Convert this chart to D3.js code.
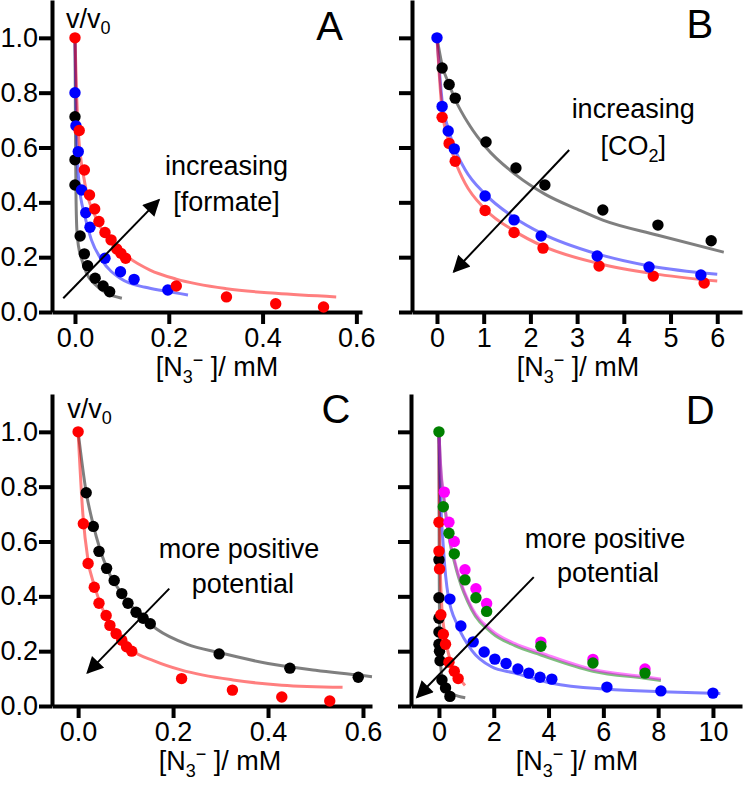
<!DOCTYPE html>
<html>
<head>
<meta charset="utf-8">
<script src="https://cdnjs.cloudflare.com/ajax/libs/d3/7.8.5/d3.min.js"></script>
<style>
body{margin:0;background:#fff;}
text{font-family:"Liberation Sans",Arial,sans-serif;fill:#000;}
.axis path,.axis line{stroke:#000;stroke-width:4;}
.axis text{font-size:27px;font-family:"Liberation Sans",Arial,sans-serif;fill:#000;}
</style>
</head>
<body>
<script>
// ---- data ([N3-] in mM, v/v0) ----
var yTicks = [0, 0.2, 0.4, 0.6, 0.8, 1.0];
var xTicksAC = [0, 0.2, 0.4, 0.6];
var xTicksB = [0, 1, 2, 3, 4, 5, 6];
var xTicksD = [0, 2, 4, 6, 8, 10];

// panel A : increasing formate
var aBlack = [[0,0.712],[0,0.555],[0,0.463],[0.011,0.277],[0.02,0.212],[0.027,0.169],[0.043,0.123],[0.06,0.095],[0.074,0.074]];
var aBlue = [[0,0.8],[0.002,0.679],[0.007,0.585],[0.014,0.445],[0.023,0.362],[0.032,0.309],[0.064,0.196],[0.097,0.147],[0.126,0.119],[0.198,0.08]];
var aRed = [[0,1.0],[0.009,0.662],[0.02,0.518],[0.031,0.427],[0.042,0.376],[0.051,0.33],[0.064,0.29],[0.077,0.263],[0.089,0.23],[0.098,0.214],[0.108,0.196],[0.216,0.095],[0.323,0.055],[0.428,0.03],[0.53,0.018]];
var aBlackFit = [[0,1],[0.001,0.7],[0.002,0.45],[0.004,0.3],[0.008,0.235],[0.013,0.2],[0.025,0.14],[0.043,0.1],[0.064,0.072],[0.1,0.05]];
var aBlueFit = [[0,1],[0.002,0.78],[0.0035,0.65],[0.0085,0.47],[0.021,0.35],[0.035,0.263],[0.057,0.19],[0.099,0.12],[0.15,0.09],[0.19,0.077],[0.241,0.062]];
var aRedFit = [[0,1],[0.003,0.82],[0.007,0.66],[0.021,0.47],[0.043,0.35],[0.071,0.265],[0.113,0.2],[0.16,0.153],[0.216,0.12],[0.323,0.085],[0.428,0.068],[0.557,0.055]];

// panel B : increasing CO2
var bBlack = [[0.11,0.89],[0.26,0.83],[0.39,0.78],[1.05,0.62],[1.69,0.525],[2.31,0.463],[3.55,0.372],[4.73,0.317],[5.87,0.26]];
var bBlue = [[0,1.0],[0.11,0.75],[0.24,0.66],[0.37,0.595],[1.03,0.423],[1.65,0.336],[2.23,0.277],[3.43,0.204],[4.54,0.164],[5.65,0.135]];
var bRed = [[0.11,0.71],[0.26,0.615],[0.39,0.55],[1.03,0.37],[1.65,0.29],[2.27,0.233],[3.47,0.168],[4.63,0.131],[5.72,0.106]];
var bBlackFit = [[0,1],[0.11,0.9],[0.26,0.83],[0.39,0.775],[0.7,0.68],[1.05,0.6],[1.69,0.5],[2.31,0.43],[3.0,0.375],[3.55,0.335],[4.73,0.28],[6.14,0.218]];
var bBlueFit = [[0,1],[0.11,0.77],[0.24,0.67],[0.37,0.6],[0.6,0.52],[1.03,0.43],[1.65,0.345],[2.23,0.288],[3.43,0.212],[4.55,0.168],[6.0,0.138]];
var bRedFit = [[0,1],[0.11,0.735],[0.26,0.62],[0.39,0.55],[0.6,0.47],[1.03,0.375],[1.66,0.295],[2.27,0.24],[3.46,0.177],[4.62,0.14],[6.0,0.113]];

// panel C : more positive potential
var cBlack = [[0.017,0.778],[0.032,0.655],[0.044,0.564],[0.06,0.502],[0.076,0.458],[0.092,0.41],[0.105,0.375],[0.122,0.342],[0.137,0.32],[0.152,0.3],[0.297,0.19],[0.446,0.138],[0.59,0.105]];
var cRed = [[0,1.0],[0.011,0.665],[0.021,0.52],[0.034,0.433],[0.044,0.375],[0.059,0.33],[0.067,0.294],[0.08,0.264],[0.092,0.24],[0.102,0.216],[0.113,0.2],[0.218,0.1],[0.325,0.058],[0.429,0.033],[0.53,0.018]];
var cBlackFit = [[0,1],[0.017,0.78],[0.032,0.66],[0.06,0.505],[0.09,0.415],[0.12,0.35],[0.166,0.28],[0.23,0.225],[0.297,0.195],[0.4,0.155],[0.5,0.13],[0.619,0.107]];
var cRedFit = [[0,1],[0.01,0.7],[0.021,0.53],[0.034,0.44],[0.05,0.36],[0.07,0.29],[0.09,0.245],[0.113,0.204],[0.16,0.165],[0.218,0.131],[0.326,0.095],[0.429,0.076],[0.557,0.068]];

// panel D : more positive potential, wider range
var dBlack = [[0,0.533],[0,0.395],[0,0.32],[0,0.27],[0,0.225],[0.02,0.2],[0.04,0.165],[0.11,0.095],[0.24,0.066],[0.4,0.035]];
var dRed = [[0,0.67],[0,0.565],[0.02,0.5],[0.07,0.333],[0.16,0.262],[0.24,0.225],[0.365,0.16],[0.56,0.127],[0.7,0.1]];
var dBlue = [[0.4,0.39],[0.8,0.292],[1.25,0.234],[1.65,0.197],[2.04,0.171],[2.45,0.155],[2.88,0.135],[3.28,0.12],[3.69,0.105],[4.12,0.098],[6.13,0.069],[8.1,0.055],[10.0,0.047]];
var dMagenta = [[0.195,0.78],[0.365,0.67],[0.56,0.6],[0.95,0.497],[1.35,0.428],[1.74,0.374],[3.72,0.233],[5.62,0.17],[7.52,0.135]];
var dGreen = [[0,1.0],[0.16,0.727],[0.365,0.63],[0.56,0.555],[0.95,0.46],[1.35,0.395],[1.74,0.345],[3.72,0.218],[5.62,0.157],[7.52,0.12]];
var dBlackFit = [[0,1],[0.005,0.7],[0.01,0.5],[0.02,0.33],[0.04,0.2],[0.08,0.13],[0.15,0.09],[0.3,0.06],[0.5,0.045],[0.96,0.03]];
var dRedFit = [[0,1],[0.02,0.7],[0.05,0.5],[0.1,0.37],[0.2,0.27],[0.35,0.19],[0.55,0.13],[0.75,0.1],[0.95,0.075]];
var dBlueFit = [[0,1],[0.04,0.82],[0.16,0.58],[0.34,0.4],[0.7,0.29],[1.19,0.204],[1.92,0.143],[2.77,0.12],[4.12,0.083],[6.13,0.061],[8.1,0.052],[10.27,0.046]];
var dGreenFit = [[0,1],[0.08,0.84],[0.16,0.77],[0.34,0.63],[0.7,0.475],[1.19,0.352],[1.92,0.268],[2.77,0.22],[3.72,0.186],[5.62,0.127],[7.5,0.101],[8.1,0.093]];
var dMagentaFit = [[0,1],[0.08,0.85],[0.16,0.78],[0.34,0.64],[0.7,0.483],[1.19,0.36],[1.92,0.276],[2.77,0.228],[3.72,0.194],[5.62,0.133],[7.5,0.107],[8.1,0.098]];

// arrows: [start, tip] in data units
var aArrow = [[-0.025,0.05],[0.179,0.409]];
var bArrow = [[2.83,0.591],[0.36,0.147]];
var cArrow = [[0.192,0.428],[0.0196,0.121]];
var dArrow = [[3.46,0.47],[-0.8,0.032]];

var svg = d3.select('body').append('svg')
    .attr('width', 744)
    .attr('height', 785);

svg.append('defs').append('marker')
    .attr('id', 'head')
    .attr('viewBox', '0 0 10 10')
    .attr('refX', 9).attr('refY', 5)
    .attr('markerUnits', 'userSpaceOnUse')
    .attr('markerWidth', 21).attr('markerHeight', 17)
    .attr('orient', 'auto')
    .append('path').attr('d', 'M0,0L10,5L0,10z').attr('fill', '#000');

var plotH = 312;

function panel(top, xDom, xRange, xTicks, xFmt, showY) {
    var g = svg.append('g').attr('transform', 'translate(0,' + top + ')');
    var x = d3.scaleLinear().domain(xDom).range(xRange);
    var y = d3.scaleLinear().domain([0, 1.138]).range([plotH, 0]);

    g.append('g').attr('class', 'axis')
        .attr('transform', 'translate(' + xRange[0] + ',0)')
        .call(d3.axisLeft(y).tickValues(yTicks).tickSize(13).tickSizeOuter(0).tickPadding(1)
            .tickFormat(showY ? d3.format('.1f') : ''));

    g.append('g').attr('class', 'axis')
        .attr('transform', 'translate(0,' + plotH + ')')
        .call(d3.axisBottom(x).tickValues(xTicks).tickSize(12).tickSizeOuter(0).tickPadding(4)
            .tickFormat(xFmt));

    return {g: g, x: x, y: y};
}

var line = function (p) {
    return d3.line()
        .x(function (d) { return p.x(d[0]); })
        .y(function (d) { return p.y(d[1]); })
        .curve(d3.curveMonotoneX);
};

function fit(p, pts, color) {
    p.g.append('path').datum(pts)
        .attr('d', line(p))
        .attr('fill', 'none')
        .attr('stroke', color)
        .attr('stroke-width', 3)
        .attr('stroke-opacity', 0.5);
}

function dots(p, pts, color) {
    p.g.append('g').selectAll('circle')
        .data(pts).enter()
        .append('circle')
        .attr('cx', function (d) { return p.x(d[0]); })
        .attr('cy', function (d) { return p.y(d[1]); })
        .attr('r', 5.7)
        .attr('fill', color);
}

function arrow(p, a) {
    p.g.append('line')
        .attr('x1', p.x(a[0][0])).attr('y1', p.y(a[0][1]))
        .attr('x2', p.x(a[1][0])).attr('y2', p.y(a[1][1]))
        .attr('stroke', '#000').attr('stroke-width', 2)
        .attr('marker-end', 'url(#head)');
}

function txt(p, c, v, s, size, anchor) {
    return p.g.append('text')
        .attr('x', p.x(c)).attr('y', p.y(v))
        .attr('text-anchor', anchor || 'middle')
        .style('font-size', (size || 27) + 'px')
        .text(s);
}

// [N3-]/ mM axis title
function nTitle(p, cx) {
    var t = p.g.append('text')
        .attr('x', cx).attr('y', 376)
        .attr('text-anchor', 'middle')
        .style('font-size', '27px');
    t.append('tspan').text('[N');
    t.append('tspan').attr('dy', 7).style('font-size', '18px').text('3');
    t.append('tspan').attr('dy', -17).style('font-size', '18px').text('\u2212');
    t.append('tspan').attr('dy', 10).text(' ]/ mM');
}

function vLabel(p, c, v) {
    var t = txt(p, c, v, 'v/v', 27, 'start');
    t.append('tspan').attr('dy', 6).style('font-size', '18px').text('0');
}

var fmt1 = d3.format('.1f');
var fmt0 = d3.format('d');

// ---------- A ----------
var A = panel(0, [-0.049, 0.612], [52, 362], xTicksAC, fmt1, true);
fit(A, aBlackFit, '#000');
fit(A, aBlueFit, '#0000ff');
fit(A, aRedFit, '#ff0000');
dots(A, aBlack, '#000');
dots(A, aBlue, '#0000ff');
dots(A, aRed, '#ff0000');
arrow(A, aArrow);
txt(A, 0.323, 0.5, 'increasing');
txt(A, 0.323, 0.369, '[formate]');
txt(A, 0.543, 0.993, 'A', 40);
vLabel(A, -0.019, 1.036);
nTitle(A, 217);

// ---------- B ----------
var B = panel(0, [-0.535, 6.53], [412, 742], xTicksB, fmt0, false);
fit(B, bBlackFit, '#000');
fit(B, bBlueFit, '#0000ff');
fit(B, bRedFit, '#ff0000');
dots(B, bBlack, '#000');
dots(B, bRed, '#ff0000');
dots(B, bBlue, '#0000ff');
arrow(B, bArrow);
txt(B, 4.2, 0.708, 'increasing');
var co = txt(B, 4.2, 0.573, '[CO');
co.append('tspan').attr('dy', 7).style('font-size', '18px').text('2');
co.append('tspan').attr('dy', -7).text(']');
txt(B, 5.63, 1.0, 'B', 40);
nTitle(B, 578);

// ---------- C ----------
var C = panel(394, [-0.055, 0.619], [52, 372], xTicksAC, fmt1, true);
fit(C, cBlackFit, '#000');
fit(C, cRedFit, '#ff0000');
dots(C, cBlack, '#000');
dots(C, cRed, '#ff0000');
arrow(C, cArrow);
txt(C, 0.339, 0.538, 'more positive');
txt(C, 0.347, 0.411, 'potential');
txt(C, 0.543, 1.033, 'C', 40);
vLabel(C, -0.023, 1.05);
nTitle(C, 220);

// ---------- D ----------
var D = panel(394, [-1.02, 11.06], [411, 742], xTicksD, fmt0, false);
fit(D, dBlackFit, '#000');
fit(D, dRedFit, '#ff0000');
fit(D, dBlueFit, '#0000ff');
fit(D, dGreenFit, '#008000');
fit(D, dMagentaFit, '#ff00ff');
dots(D, dBlack, '#000');
dots(D, dRed, '#ff0000');
dots(D, dBlue, '#0000ff');
dots(D, dMagenta, '#ff00ff');
dots(D, dGreen, '#008000');
arrow(D, dArrow);
txt(D, 6.06, 0.575, 'more positive');
txt(D, 6.17, 0.451, 'potential');
txt(D, 9.53, 1.029, 'D', 40);
nTitle(D, 577);
</script>
</body>
</html>
